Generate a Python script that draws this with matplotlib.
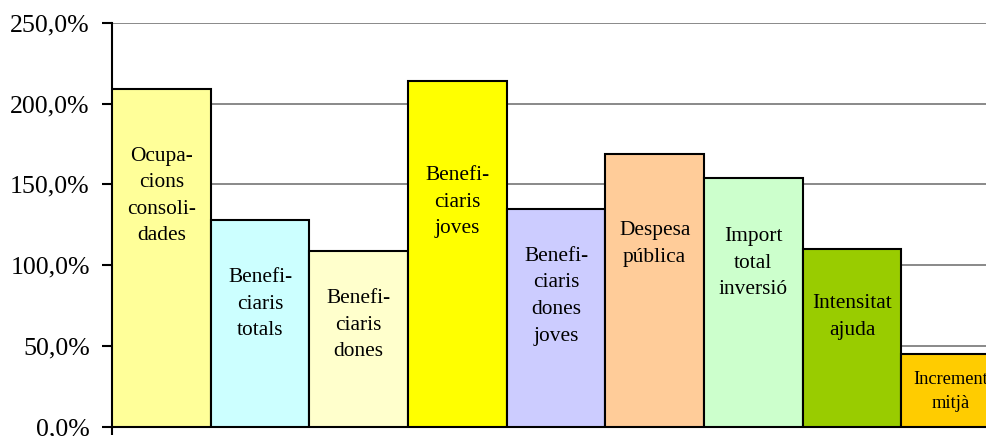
import matplotlib
matplotlib.use("Agg")
import matplotlib.pyplot as plt
from matplotlib.ticker import FuncFormatter

labels = ["Ocupa-\ncions\nconsoli-\ndades", "Benefi-\nciaris\ntotals", "Benefi-\nciaris\ndones",
          "Benefi-\nciaris\njoves", "Benefi-\nciaris\ndones\njoves", "Despesa\npública",
          "Import\ntotal\ninversió", "Intensitat\najuda", "Increment\nmitjà"]
values = [208.8, 127.9, 108.7, 213.9, 134.7, 168.7, 154.1, 110.0, 45.4]
label_y = [142.8, 75.9, 62.9, 139.0, 80.9, 113.0, 101.3, 67.9, 22.1]
label_size = [15.4, 15.4, 15.4, 15.4, 15.4, 15.4, 15.4, 15.4, 13.2]
colors = ["#FFFF99", "#CCFFFF", "#FFFFCC", "#FFFF00", "#CCCCFF", "#FFCC99", "#CCFFCC", "#99CC00", "#FFCC00"]
yticks = [0, 50, 100, 150, 200, 250]

plt.rcParams['font.family'] = ['Liberation Serif', 'DejaVu Serif']

fig = plt.figure(figsize=(9.86, 4.36), dpi=100)
ax = fig.add_axes([112/986, 9/436, 888/986, (427-22.7)/436])

x = [i + 0.5 for i in range(len(values))]
ax.bar(x, values, width=1.0, color=colors, edgecolor="black", linewidth=1.5, zorder=3)
for xi, txt, ly, fs in zip(x, labels, label_y, label_size):
    ax.text(xi, ly, txt, ha="center", va="center", fontsize=fs,
            linespacing=1.54, zorder=4)

ax.set_xlim(0, 9)
ax.set_ylim(0, 250)
ax.set_yticks(yticks)
ax.yaxis.set_major_formatter(FuncFormatter(lambda v, p: f"{v:.1f}".replace(".", ",") + "%"))
ax.tick_params(axis="y", labelsize=18.6, direction="out", length=7, width=1.5, pad=9)
ax.set_xticks([0])
ax.set_xticklabels([""])
ax.tick_params(axis="x", direction="out", length=6, width=1.5)
ax.grid(axis="y", color="#808080", linewidth=1.3)
ax.set_axisbelow(True)
for s in ["top", "right"]:
    ax.spines[s].set_visible(False)
for s in ["left", "bottom"]:
    ax.spines[s].set_linewidth(1.5)
    ax.spines[s].set_color("black")

fig.savefig("out.png", dpi=100)
